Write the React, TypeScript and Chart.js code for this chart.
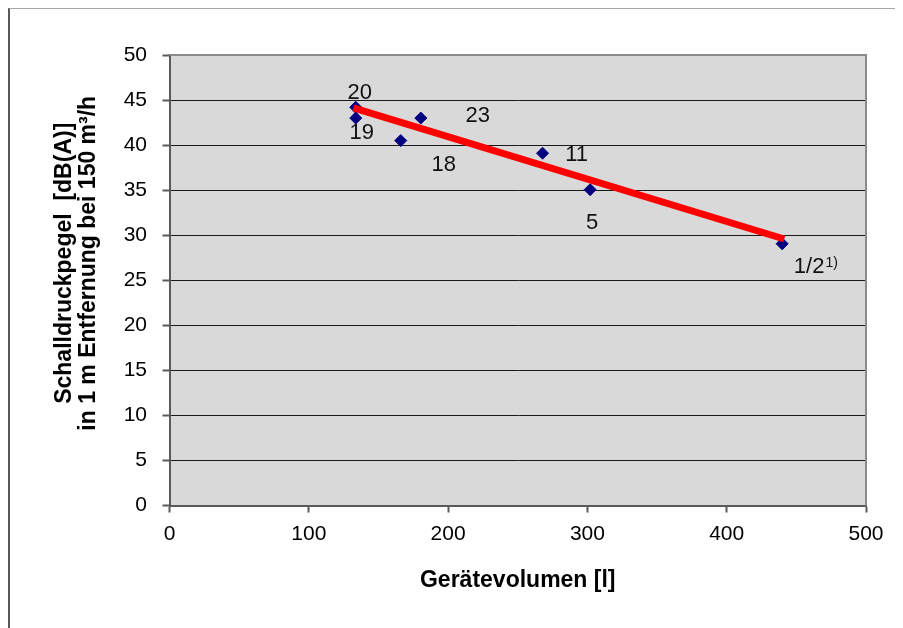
import React, { useEffect, useRef } from 'react';
import { Chart, registerables } from 'chart.js';

Chart.register(...registerables);

// ---- data ----
const volumes = [133.7, 133.7, 166, 180.4, 267.8, 302, 439.8];
const levels = [44.2, 43.0, 40.5, 43.0, 39.1, 35.05, 29.05];
const pointLabels = ['20', '19', '18', '23', '11', '5', '1/2'];
const pointFootnotes = ['', '', '', '', '', '', '1)'];
const trendX = [132, 441.3];
const trendY = [44.13, 29.58];
const xTitle = 'Gerätevolumen [l]';
const yTitle = ['Schalldruckpegel  [dB(A)]', 'in 1 m Entfernung bei 150 m³/h'];

// label placement (pixel offsets from each point) – styling, not data
const labelDx = [4, 6, 43, 57, 34, 2, 27];
const labelDy = [-14, 15, 24, -2, 2, 33, 23];

const FONT = "'Liberation Sans', Arial, sans-serif";

const decor = {
  id: 'decor',
  beforeDraw(chart: any) {
    const { ctx, chartArea: a } = chart;
    ctx.save();
    ctx.fillStyle = '#d9d9d9';
    ctx.fillRect(a.left, a.top, a.right - a.left, a.bottom - a.top);
    ctx.restore();
  },
  beforeDatasetsDraw(chart: any) {
    const { ctx, chartArea: a } = chart;
    ctx.save();
    ctx.strokeStyle = '#8a8a8a';
    ctx.lineWidth = 2;
    ctx.beginPath();
    ctx.moveTo(a.left, a.top);
    ctx.lineTo(a.right, a.top);
    ctx.lineTo(a.right, a.bottom);
    ctx.stroke();
    ctx.restore();
  },
  afterDraw(chart: any) {
    const { ctx, chartArea: a } = chart;
    // y-axis title (two lines, rotated)
    ctx.save();
    ctx.fillStyle = '#000';
    ctx.font = `bold 23px ${FONT}`;
    ctx.textAlign = 'center';
    ctx.textBaseline = 'middle';
    const cy = (a.top + a.bottom) / 2 - 17;
    const xs = [a.left - 105, a.left - 80.5];
    yTitle.forEach((t, i) => {
      ctx.save();
      ctx.translate(xs[i], cy);
      ctx.rotate(-Math.PI / 2);
      ctx.fillText(t, 0, 0);
      ctx.restore();
    });
    ctx.restore();

    // point labels
    const meta = chart.getDatasetMeta(1);
    ctx.save();
    ctx.fillStyle = '#111';
    ctx.textBaseline = 'middle';
    meta.data.forEach((el: any, i: number) => {
      const x = el.x + labelDx[i];
      const y = el.y + labelDy[i];
      ctx.font = `22px ${FONT}`;
      ctx.textAlign = 'center';
      ctx.fillText(pointLabels[i], x, y);
      if (pointFootnotes[i]) {
        const w = ctx.measureText(pointLabels[i]).width;
        ctx.font = `14px ${FONT}`;
        ctx.textAlign = 'left';
        ctx.fillText(pointFootnotes[i], x + w / 2 + 1, y - 4);
      }
    });
    ctx.restore();
  },
};

export default function App() {
  const ref = useRef<HTMLCanvasElement | null>(null);

  useEffect(() => {
    document.documentElement.style.overflow = 'hidden';
    const canvas = ref.current;
    if (!canvas) return;
    const chart = new Chart(canvas, {
      type: 'scatter',
      data: {
        datasets: [
          {
            type: 'line',
            label: 'Trend',
            data: trendX.map((x, i) => ({ x, y: trendY[i] })),
            borderColor: '#ff0000',
            borderWidth: 7,
            borderCapStyle: 'butt',
            pointRadius: 0,
            fill: false,
            order: 0,
          } as any,
          {
            label: 'Geräte',
            data: volumes.map((x, i) => ({ x, y: levels[i] })),
            backgroundColor: '#000080',
            borderColor: '#000080',
            borderWidth: 1,
            pointStyle: 'rectRot',
            pointRadius: 6,
            order: 1,
          },
        ],
      },
      options: {
        responsive: false,
        animation: false,
        devicePixelRatio: 1,
        layout: { padding: { top: 46, right: 37, left: 0, bottom: 0 } },
        plugins: {
          legend: { display: false },
          tooltip: { enabled: false },
        },
        scales: {
          x: {
            type: 'linear',
            min: 0,
            max: 500,
            ticks: {
              stepSize: 100,
              padding: 9,
              color: '#000',
              font: { family: FONT, size: 21 },
            },
            grid: {
              drawOnChartArea: false,
              drawTicks: true,
              tickLength: 7,
              tickColor: '#595959',
              tickWidth: 2,
            },
            border: { display: true, color: '#595959', width: 2 },
            title: {
              display: true,
              text: xTitle,
              color: '#000',
              font: { family: FONT, size: 23, weight: 'bold' },
              padding: { top: 0, bottom: 34 },
            },
            afterFit(scale: any) {
              scale.height = 122.5;
            },
          },
          y: {
            type: 'linear',
            min: 0,
            max: 50,
            ticks: {
              stepSize: 5,
              padding: 15.5,
              color: '#000',
              font: { family: FONT, size: 21 },
            },
            grid: {
              color: '#1a1a1a',
              lineWidth: 1,
              drawTicks: true,
              tickLength: 7,
              tickColor: '#595959',
              tickWidth: 2,
            },
            border: { display: true, color: '#595959', width: 2 },
            afterFit(scale: any) {
              scale.width = 159.5;
            },
          },
        },
      } as any,
      plugins: [decor],
    });
    return () => chart.destroy();
  }, []);

  return (
    <div
      style={{
        position: 'relative',
        width: 893,
        height: 619,
        borderTop: '1px solid #a6a6a6',
        borderLeft: '2px solid #595959',
        background: '#fff',
      }}
    >
      <canvas
        ref={ref}
        width={893}
        height={619}
        style={{ display: 'block', width: 893, height: 619 }}
      />
    </div>
  );
}
